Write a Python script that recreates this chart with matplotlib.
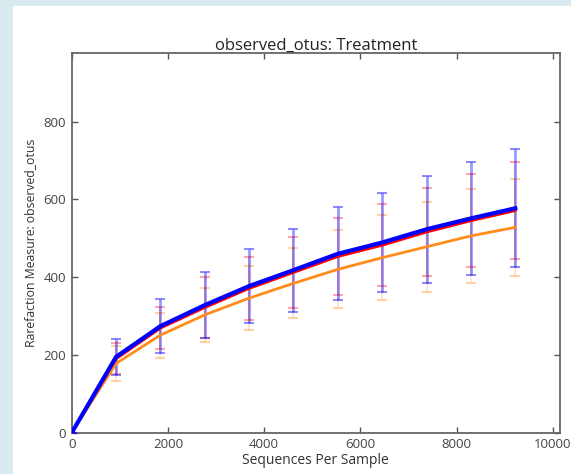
import matplotlib
matplotlib.use("Agg")
import matplotlib.pyplot as plt
from matplotlib.patches import Rectangle

plt.rcParams['font.family'] = ['Open Sans', 'DejaVu Sans']

# sequences per sample (rarefaction depths)
depths = [0, 922, 1844, 2766, 3688, 4610, 5532, 6454, 7376, 8298, 9220]

# observed_otus per treatment group, mean and error
orange_mean = [0, 178, 251, 303, 346, 384, 420, 450, 478, 506, 528]
orange_err = [0, 44, 58, 70, 82, 90, 100, 110, 115, 120, 124]
red_mean = [0, 190, 269, 322, 371, 412, 453, 482, 516, 545, 571]
red_err = [0, 40, 55, 78, 82, 92, 98, 105, 112, 119, 125]
blue_mean = [0, 195, 274, 328, 377, 418, 460, 489, 523, 551, 577]
blue_err = [0, 46, 70, 85, 95, 107, 120, 128, 137, 145, 152]

xticks = [0, 2000, 4000, 6000, 8000, 10000]
yticks = [0, 200, 400, 600, 800]

fig = plt.figure(figsize=(5.71, 4.74), dpi=100)
fig.patch.set_facecolor('white')
# light blue page border, left and top
bg = '#d8ebf1'
fig.patches.append(Rectangle((0, 0), 0.0222, 1, transform=fig.transFigure,
                             facecolor=bg, edgecolor='none'))
fig.patches.append(Rectangle((0, 0.988), 1, 0.012, transform=fig.transFigure,
                             facecolor=bg, edgecolor='none'))

ax = fig.add_axes([0.1256, 0.0871, 0.9807 - 0.1256, 0.8888 - 0.0871])

# (mean, err, colour, line width, stem width, stem alpha, cap alpha)
series = [
    (orange_mean, orange_err, '#ff8c1a', 2.0, 1.2, 0.25, 0.4),
    (red_mean, red_err, '#ff0000', 2.0, 1.2, 0.2, 0.35),
    (blue_mean, blue_err, '#0000ff', 3.0, 2.0, 0.4, 0.45),
]
for mean, err, col, lw, ew, stem_a, cap_a in series:
    ax.plot(depths, mean, color=col, linewidth=lw, zorder=5)
    eb = ax.errorbar(depths, mean, yerr=err, fmt='none', ecolor=col, elinewidth=ew,
                     capsize=3.5, capthick=1.5, zorder=3)
    for cap in eb[1]:
        cap.set_alpha(cap_a)
    for stem in eb[2]:
        stem.set_alpha(stem_a)

ax.set_xlim(0, 10150)
ax.set_ylim(0, 977)
ax.set_xticks(xticks)
ax.set_yticks(yticks)
ax.tick_params(direction='in', top=True, right=True, length=4, width=1,
               colors='#555555', labelcolor='#444444', labelsize=9.5, pad=4)
for s in ax.spines.values():
    s.set_color('#666666')
    s.set_linewidth(1.3)

ax.set_title('observed_otus: Treatment', fontsize=12, color='#222222', pad=2)
ax.set_xlabel('Sequences Per Sample', fontsize=10, color='#333333', labelpad=1)
ax.set_ylabel('Rarefaction Measure: observed_otus', fontsize=8.8, color='#333333', labelpad=5)

fig.savefig('out.png', dpi=100, facecolor=fig.get_facecolor())
